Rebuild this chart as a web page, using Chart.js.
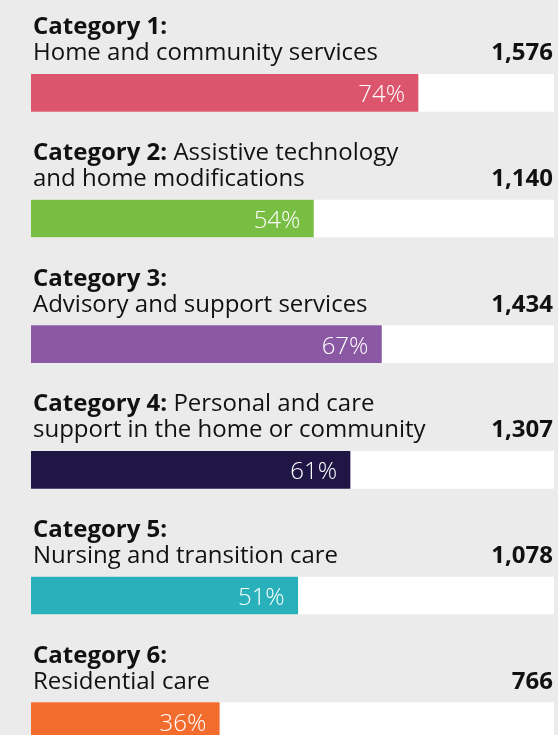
<!DOCTYPE html>
<html>
<head>
<meta charset="utf-8">
<script src="https://cdn.jsdelivr.net/npm/chart.js@4/dist/chart.umd.min.js"></script>
<style>
  html, body { margin: 0; padding: 0; background: #ebebeb; overflow: hidden; }
  #wrap { width: 558px; height: 790px; }
</style>
</head>
<body>
<div id="wrap"><canvas id="bars" width="558" height="790"></canvas></div>
<script>
// Data
const categoryNames = ['Category 1:', 'Category 2:', 'Category 3:', 'Category 4:', 'Category 5:', 'Category 6:'];
const titleRest = ['', ' Assistive technology', '', ' Personal and care', '', ''];
const secondLine = [
    'Home and community services',
    'and home modifications',
    'Advisory and support services',
    'support in the home or community',
    'Nursing and transition care',
    'Residential care'
];
const counts = [1576, 1140, 1434, 1307, 1078, 766];
const shares = [74, 54, 67, 61, 51, 36];
const barColours = ['#db566d', '#78be43', '#8b58a3', '#1f1646', '#29b1bb', '#f26c2e'];

const FONT = '"Open Sans", "DejaVu Sans", sans-serif';

// Draws the two-line titles, the counts and the % labels
const labelPlugin = {
    id: 'rowLabels',
    afterDatasetsDraw(chart) {
        const {ctx} = chart;
        const meta = chart.getDatasetMeta(0);
        ctx.save();
        meta.data.forEach((bar, i) => {
            const mid = bar.y;
            const top = mid - 18.5;
            const line1 = top - 40;
            const line2 = top - 14;
            const left = 33;

            ctx.textBaseline = 'alphabetic';
            ctx.fillStyle = '#111111';
            ctx.textAlign = 'left';
            ctx.font = 'bold 24px ' + FONT;
            ctx.fillText(categoryNames[i], left, line1);
            const w = ctx.measureText(categoryNames[i]).width;
            ctx.font = '24px ' + FONT;
            ctx.fillText(titleRest[i], left + w, line1);
            ctx.fillText(secondLine[i], left, line2);

            ctx.textAlign = 'right';
            ctx.font = 'bold 24px ' + FONT;
            ctx.fillText(counts[i].toLocaleString('en-US'), 553, line2);

            ctx.fillStyle = '#ffffff';
            ctx.font = '300 24px ' + FONT;
            ctx.fillText(shares[i] + '%', bar.x - 13, mid + 9.5);
        });
        ctx.restore();
    }
};

new Chart(document.getElementById('bars'), {
    type: 'bar',
    data: {
        labels: categoryNames,
        datasets: [
            {
                data: shares,
                backgroundColor: barColours,
                barThickness: 37,
                grouped: false,
                order: 0
            },
            {
                data: shares.map(() => 100),
                backgroundColor: '#ffffff',
                barThickness: 37,
                grouped: false,
                order: 1
            }
        ]
    },
    options: {
        indexAxis: 'y',
        responsive: false,
        animation: false,
        devicePixelRatio: 1,
        layout: { padding: { left: 31, right: 4, top: 30, bottom: 6 } },
        scales: {
            x: { min: 0, max: 100, display: false },
            y: { display: false }
        },
        plugins: { legend: { display: false }, tooltip: { enabled: false } }
    },
    plugins: [labelPlugin]
});
</script>
</body>
</html>
